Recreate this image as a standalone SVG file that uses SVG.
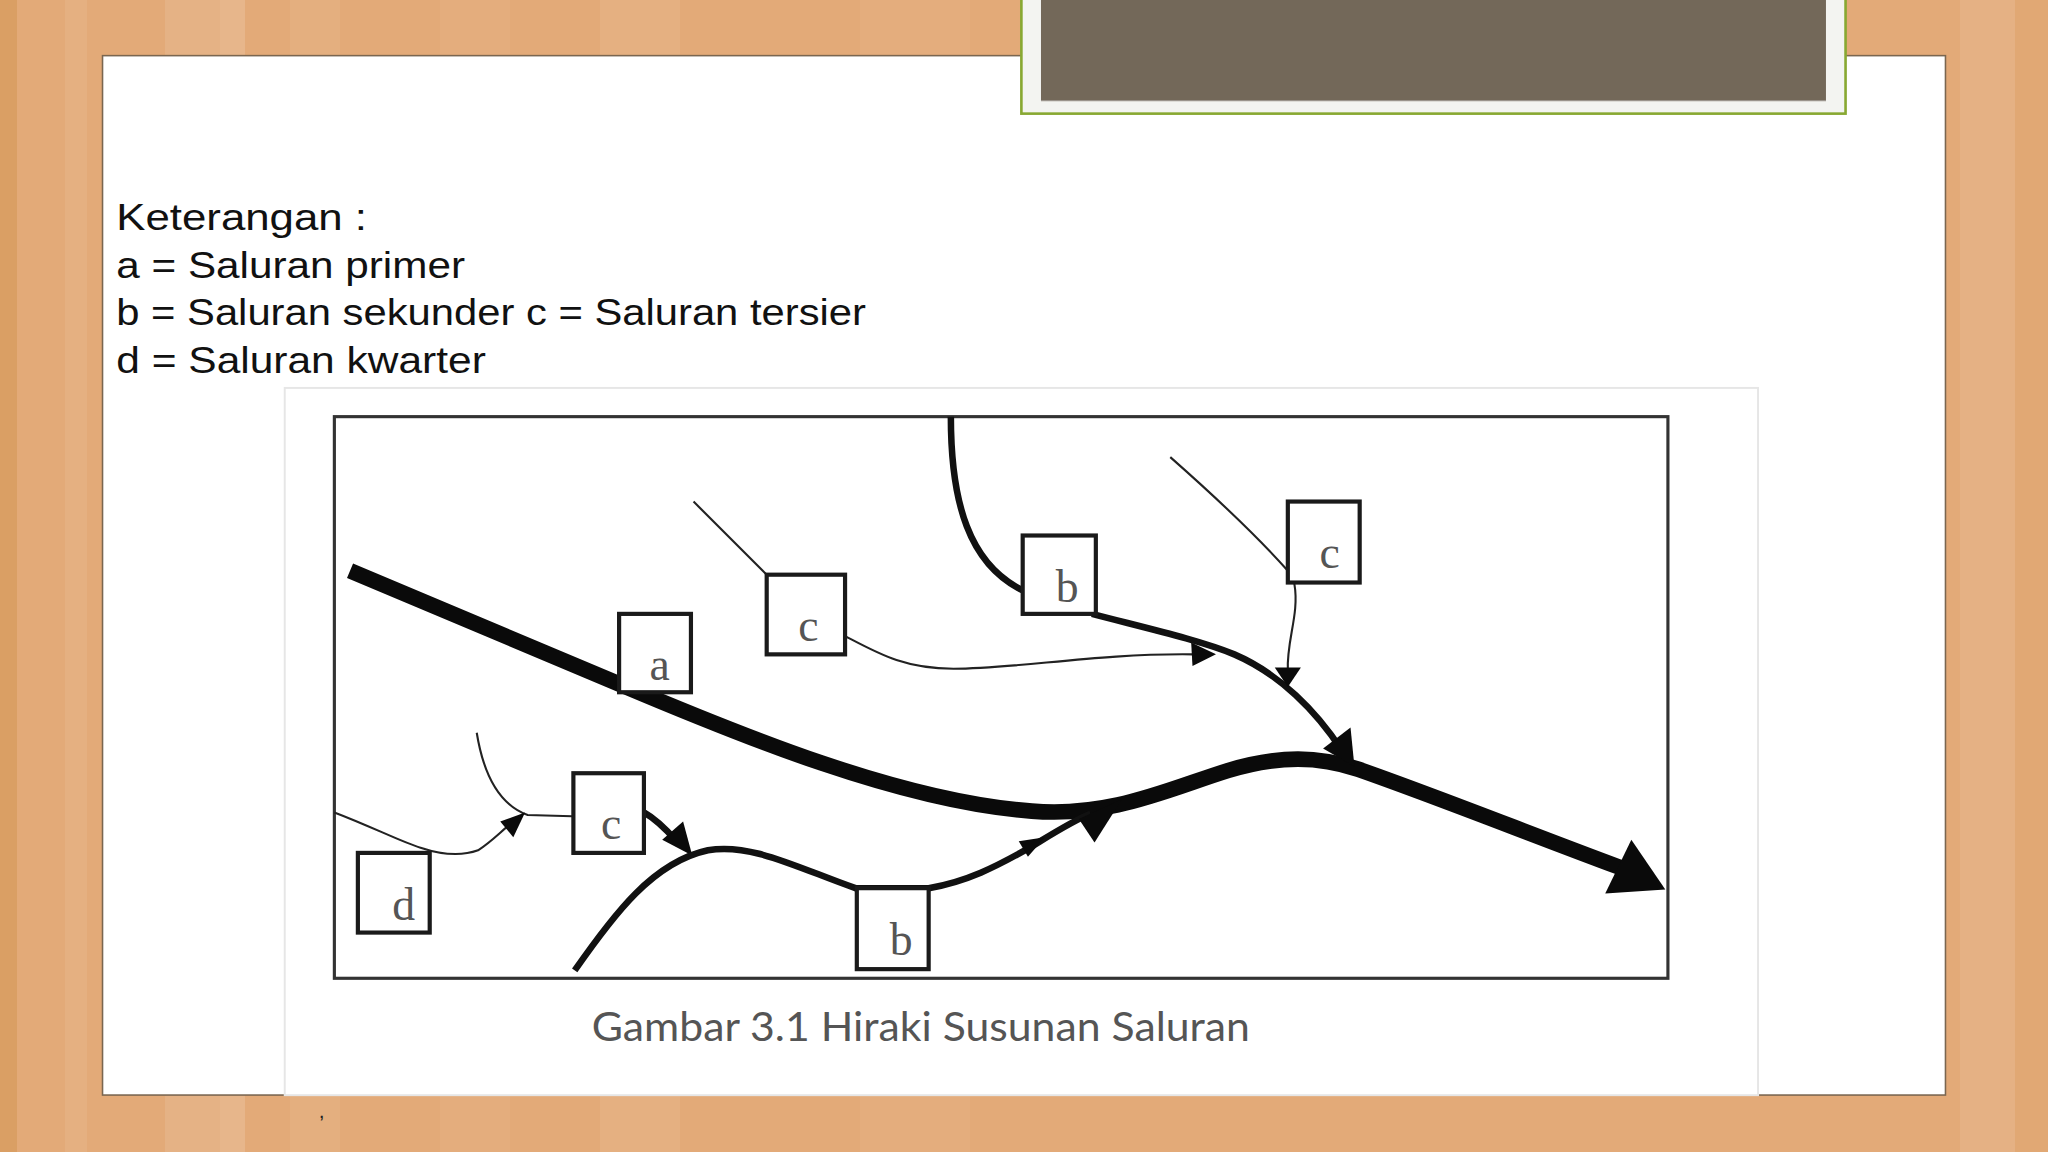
<svg xmlns="http://www.w3.org/2000/svg" width="2048" height="1152" viewBox="0 0 2048 1152">
<style>
.box{fill:#fff;stroke:#1a1a1a;stroke-width:3.2}
.lbl{font-family:"Liberation Serif","Times New Roman",serif;font-size:35px;fill:#555;text-anchor:middle}
.thin{fill:none;stroke:#222;stroke-width:1.6}
.mid{fill:none;stroke:#111;stroke-width:5}
.thick{fill:none;stroke:#0a0a0a;stroke-width:12}
.head{fill:#0a0a0a}
.legend{font-family:"Liberation Sans",Arial,sans-serif;font-size:28.5px;fill:#111}
.stripe{fill:#fff}
</style>
<rect x="0" y="0" width="2048" height="1152" fill="#E3AA78"/>
<g id="background-stripes">
<rect x="0" y="0" width="17" height="1152" fill="#DA9F64"/>
<rect class="stripe" x="65" y="0" width="22" height="1152" opacity="0.07"/>
<rect class="stripe" x="165" y="0" width="55" height="1152" opacity="0.10"/>
<rect class="stripe" x="220" y="0" width="25" height="1152" opacity="0.14"/>
<rect class="stripe" x="290" y="0" width="50" height="1152" opacity="0.06"/>
<rect class="stripe" x="440" y="0" width="70" height="1152" opacity="0.04"/>
<rect class="stripe" x="600" y="0" width="80" height="1152" opacity="0.07"/>
<rect class="stripe" x="860" y="0" width="110" height="1152" opacity="0.04"/>
<rect class="stripe" x="1960" y="0" width="55" height="1152" opacity="0.09"/>
<rect x="2015" y="0" width="33" height="1152" fill="#E0A670" opacity="0.5"/>
</g>
<g transform="scale(1.306122)">
<g id="slide">
<rect x="78.5" y="42.6" width="1411" height="795.8" fill="#fff" stroke="#7a6650" stroke-width="1.2"/>
</g>
<g id="title-box">
<rect x="782" y="-5" width="631" height="92" fill="#f3f4f1" stroke="#88a832" stroke-width="2"/>
<rect x="797" y="-5" width="601" height="82" fill="#736859"/>
<line x1="797" y1="77" x2="1398" y2="77" stroke="#9a948c" stroke-width="1"/>
</g>
<g id="legend">
<text class="legend" x="89" y="176" textLength="192" lengthAdjust="spacingAndGlyphs">Keterangan :</text>
<text class="legend" x="89" y="212.5" textLength="267" lengthAdjust="spacingAndGlyphs">a = Saluran primer</text>
<text class="legend" x="89" y="249" textLength="574" lengthAdjust="spacingAndGlyphs">b = Saluran sekunder c = Saluran tersier</text>
<text class="legend" x="89" y="285.5" textLength="283" lengthAdjust="spacingAndGlyphs">d = Saluran kwarter</text>
</g>
<g id="picture">
<rect x="218" y="297" width="1128" height="541.5" fill="#fff" stroke="#e6e6e6" stroke-width="1.5"/>
<rect x="256" y="319" width="1021" height="430" fill="#fff" stroke="#333" stroke-width="2.4"/>
</g>
<g id="connectors">
<path class="thick" d="M268,437 L475,524 C565,562 690,614 790,621 C850,626 895,604 940,590 C980,578 1010,579 1040,589 C1100,610 1170,638 1240,664"/>
<polygon class="head" points="1275,681 1249,643 1229,684"/>
<path class="thin" d="M531,384 L587,440"/>
<path class="thin" d="M647,487 C672,500 692,512 730,512 C780,512 840,500 914,501"/>
<polygon class="head" points="931,501 912,492 913,510"/>
<path class="mid" stroke-width="4" d="M728,319 C728,385 742,432 783,452"/>
<path class="mid" d="M836,470 C878,481 918,490 945,501 C980,516 1008,545 1027,574"/>
<polygon class="head" points="1037,587 1034,557 1013,573"/>
<path class="thin" d="M896,350 C930,380 962,410 986,437"/>
<path class="thin" d="M991,447 C995,470 985,490 986,513"/>
<polygon class="head" points="986,526 976,511 996,511"/>
<path class="thin" d="M365,561 C370,592 382,616 404,624 L438,625"/>
<path class="thin" d="M256,622 C285,633 308,645 322,649 C340,655 355,655 366,651 C377,644 385,635 392,630"/>
<polygon class="head" points="402,622 383,629 393,641"/>
<path class="mid" stroke-width="3.5" d="M493,622 C502,627 510,635 518,644"/>
<polygon class="head" points="530,655 507,643 523,629"/>
<path class="mid" stroke-width="6" d="M440,743 C470,700 500,660 542,651 C575,645 612,665 655,680 L711,680 C740,675 762,664 790,648 C808,637 822,628 835,623"/>
<polygon class="head" points="800,641 780,644 787,656"/>
<polygon class="head" points="859,612 826,627 838,645"/>
</g>
<g id="node-a"><rect class="box" x="474" y="470" width="55" height="60"/><text class="lbl" x="505" y="521">a</text></g>
<g id="node-c1"><rect class="box" x="587" y="440" width="60" height="61"/><text class="lbl" x="619" y="491">c</text></g>
<g id="node-b1"><rect class="box" x="783" y="410" width="56" height="60"/><text class="lbl" x="817" y="461">b</text></g>
<g id="node-c2"><rect class="box" x="986" y="384" width="55" height="62"/><text class="lbl" x="1018" y="435">c</text></g>
<g id="node-c3"><rect class="box" x="439" y="592" width="54" height="61"/><text class="lbl" x="468" y="642">c</text></g>
<g id="node-d"><rect class="box" x="274" y="653" width="55" height="61"/><text class="lbl" x="309" y="704">d</text></g>
<g id="node-b2"><rect class="box" x="656" y="680" width="55" height="62"/><text class="lbl" x="690" y="731">b</text></g>
<text x="705" y="797" font-family="Lato,'Open Sans',sans-serif" font-size="30.5" fill="#555" text-anchor="middle" textLength="504" lengthAdjust="spacingAndGlyphs">Gambar 3.1 Hiraki Susunan Saluran</text>
<text x="244" y="856" font-family="'Liberation Sans',sans-serif" font-size="16" fill="#222">,</text>
</g>
</svg>
